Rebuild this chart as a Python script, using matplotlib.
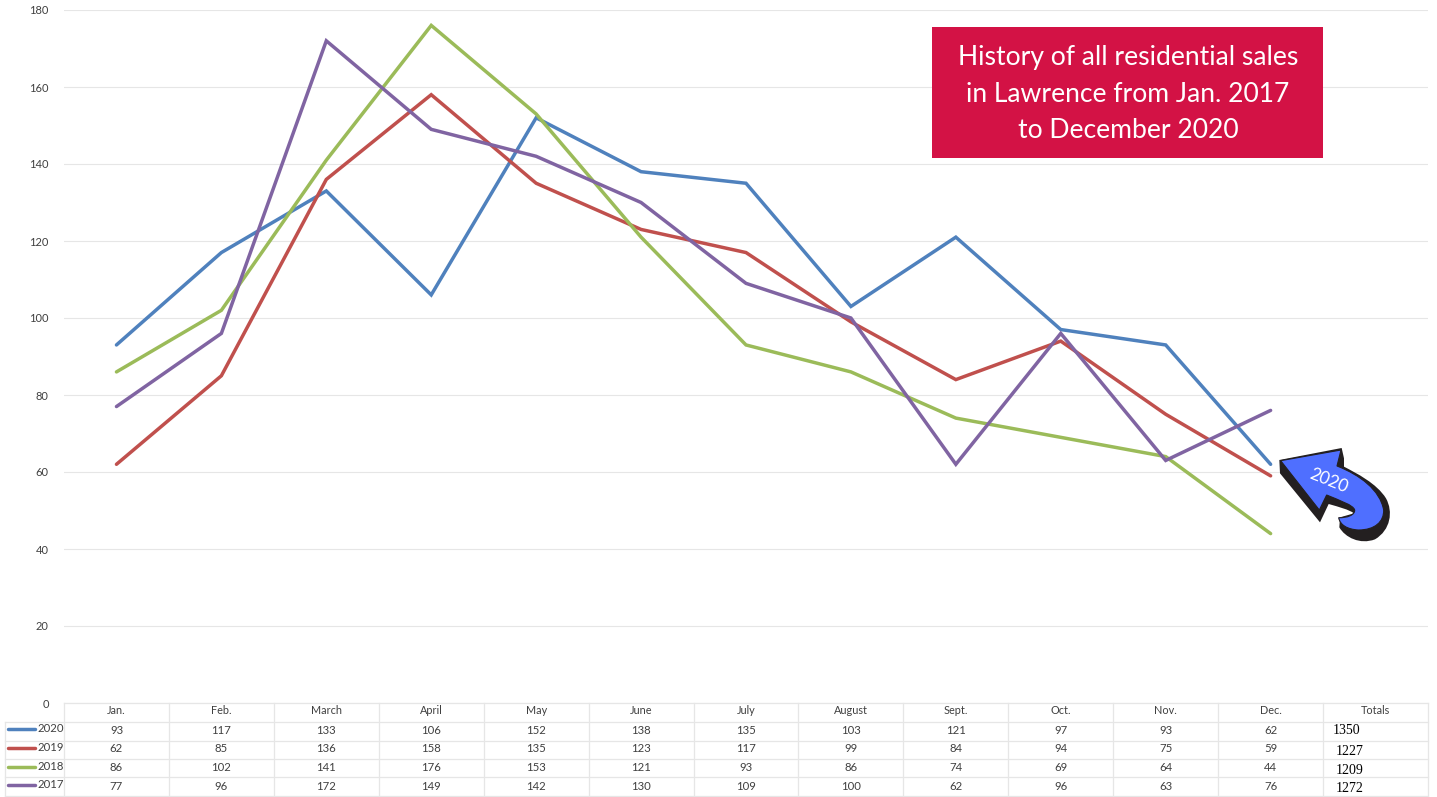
import matplotlib
matplotlib.use("Agg")
import matplotlib.pyplot as plt
from matplotlib.path import Path
from matplotlib.patches import PathPatch, Rectangle
from matplotlib.transforms import blended_transform_factory, Affine2D

months = ["Jan.", "Feb.", "March", "April", "May", "June", "July", "August", "Sept.", "Oct.", "Nov.", "Dec."]
years = ["2020", "2019", "2018", "2017"]
sales_2020 = [93, 117, 133, 106, 152, 138, 135, 103, 121, 97, 93, 62]
sales_2019 = [62, 85, 136, 158, 135, 123, 117, 99, 84, 94, 75, 59]
sales_2018 = [86, 102, 141, 176, 153, 121, 93, 86, 74, 69, 64, 44]
sales_2017 = [77, 96, 172, 149, 142, 130, 109, 100, 62, 96, 63, 76]
totals = [1350, 1227, 1209, 1272]
series = [sales_2020, sales_2019, sales_2018, sales_2017]
colors = ["#4F81BD", "#C0504D", "#9BBB59", "#8064A2"]
title_lines = ["History of all residential sales", "in Lawrence from Jan. 2017", "to December 2020"]

W, H = 1437, 797
GRID = "#E6E6E6"
TXT = "#404040"
plt.rcParams["font.family"] = ["Lato", "DejaVu Sans"]

fig = plt.figure(figsize=(W / 100, H / 100), dpi=100, facecolor="white")
ax = fig.add_axes([64 / W, (H - 703) / H, (1428 - 64) / W, (703 - 10) / H])
ax.set_xlim(-0.5, 12.5)
ax.set_ylim(0, 180)
for s in ax.spines.values():
    s.set_visible(False)
ax.set_xticks([])
ax.set_yticks(range(0, 181, 20))
ax.tick_params(axis="y", length=0, pad=11, labelsize=8, labelcolor=TXT)
ax.grid(axis="y", color=GRID, lw=0.8)
ax.set_axisbelow(True)
for vals, c in zip(series, colors):
    ax.plot(range(12), vals, color=c, lw=2.5, solid_joinstyle="miter", solid_capstyle="round")

# overlay in pixel coordinates for table and annotations
ov = fig.add_axes([0, 0, 1, 1], facecolor="none")
ov.set_xlim(0, W)
ov.set_ylim(H, 0)
ov.axis("off")
bt = blended_transform_factory(ax.transData, ov.transData)

# table grid
row_lines = [703, 722, 741, 759, 777, 796]
for i, y in enumerate(row_lines):
    ov.plot([5 if i else 64, 1428], [y, y], color=GRID, lw=0.9)
ov.plot([5, 5], [722, 796], color=GRID, lw=0.9)
for k in range(14):
    ov.plot([k - 0.5, k - 0.5], [703, 796], color=GRID, lw=0.9, transform=bt)

# table header
for k, m in enumerate(months + ["Totals"]):
    ov.text(k, 711, m, ha="center", va="center", fontsize=7.8, color=TXT, transform=bt)

# table rows
row_y = [730, 748.5, 767.5, 786]
total_x = [1333, 1336, 1336, 1336]
total_y = [731, 751.5, 770.5, 788.5]
for yr, vals, c, y, tot, tx, ty in zip(years, series, colors, row_y, totals, total_x, total_y):
    ov.plot([8, 35], [y - 1, y - 1], color=c, lw=2.5, solid_capstyle="round")
    ov.text(37, y - 1, yr, ha="left", va="center", fontsize=8.2, color=TXT)
    for k, v in enumerate(vals):
        ov.text(k, y, str(v), ha="center", va="center", fontsize=8.2, color=TXT, transform=bt)
    ov.text(tx, ty, str(tot), ha="left", va="center", fontsize=10, color="black", family="Liberation Serif")

# title box
ov.add_patch(Rectangle((932, 27), 391, 131, facecolor="#D31245", edgecolor="none"))
for line, y in zip(title_lines, [57, 94, 130]):
    ov.text(1128, y, line, ha="center", va="center", color="white", fontsize=19.1, family="Lato")

# arrow callout (zoom coordinates -> pixels)
to_px = Affine2D().scale(1 / 3).translate(1260, 430) + ov.transData
M, L, C, Z = Path.MOVETO, Path.LINETO, Path.CURVE4, Path.CLOSEPOLY
shadow = [((58, 90), M), ((60, 130), L), ((180, 277), L), ((206, 222), L),
          ((240, 232), C), ((265, 238), C), ((282, 250), L),
          ((240, 262), L), ((238, 292), L),
          ((255, 322), C), ((300, 345), C), ((345, 328), C),
          ((392, 300), C), ((400, 245), C), ((378, 205), C),
          ((350, 160), C), ((290, 130), C), ((252, 110), C),
          ((252, 85), L), ((245, 54), L), ((58, 90), Z)]
blue = [((62, 92), M), ((243, 60), L), ((231, 108), L),
        ((300, 135), C), ((360, 180), C), ((371, 240), C),
        ((372, 275), C), ((345, 300), C), ((295, 300), C),
        ((262, 298), C), ((240, 285), C), ((236, 263), C),
        ((262, 264), C), ((285, 255), C), ((284, 240), C),
        ((280, 225), C), ((240, 212), C), ((200, 195), C),
        ((178, 240), L), ((62, 92), Z)]
for pts, fc in [(shadow, "#231F20"), (blue, "#4F6FFF")]:
    verts, codes = zip(*pts)
    ov.add_patch(PathPatch(Path(verts, codes), facecolor=fc, edgecolor="#231F20" if fc != "#231F20" else "none",
                           lw=0.8, transform=to_px))
ov.text(1329, 481, "2020", ha="center", va="center", rotation=-22, rotation_mode="anchor",
        color="white", fontsize=12.5, family="Lato")

fig.savefig("out.png", dpi=100)
